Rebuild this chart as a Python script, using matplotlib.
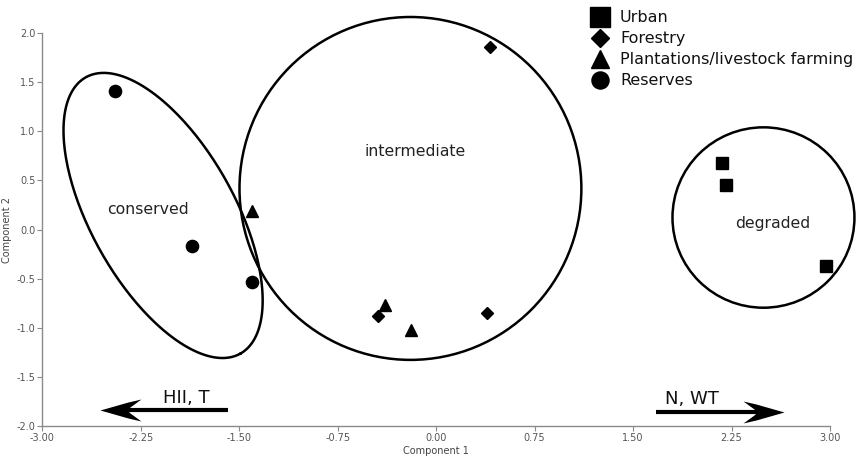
import numpy as np
import matplotlib
matplotlib.use('Agg')
import matplotlib.pyplot as plt
from matplotlib.patches import Ellipse
from matplotlib.path import Path
from matplotlib.lines import Line2D

# scores on the two components
urban_x = [2.18, 2.21, 2.97]
urban_y = [0.68, 0.45, -0.37]
forestry_x = [0.41, -0.44, 0.39]
forestry_y = [1.86, -0.88, -0.85]
plant_x = [-1.40, -0.39, -0.19]
plant_y = [0.19, -0.765, -1.02]
reserve_x = [-2.45, -1.86, -1.40]
reserve_y = [1.41, -0.17, -0.53]

legend_labels = ['Urban', 'Forestry', 'Plantations/livestock farming', 'Reserves']
x_ticks = [-3.00, -2.25, -1.50, -0.75, 0.00, 0.75, 1.50, 2.25, 3.00]
y_ticks = [-2.0, -1.5, -1.0, -0.5, 0.0, 0.5, 1.0, 1.5, 2.0]

# groups: conserved (tilted ellipse, centre + two conjugate semi-axes), intermediate, degraded
cons_c = (-2.08, 0.143)
cons_u = (0.589, -1.406)
cons_v = (-0.478, -0.359)
inter_c = (-0.196, 0.418)
inter_wh = (2.604, 3.49)
degr_c = (2.493, 0.122)
degr_wh = (1.386, 1.836)

fig = plt.figure(figsize=(8.58, 4.63), dpi=100)
ax = fig.add_axes([0.0493, 0.0799, 0.9181, 0.8488])
ax.set_xlim(-3, 3)
ax.set_ylim(-2, 2)

ms = dict(color='black', linestyle='none', clip_on=False)
ax.plot(urban_x, urban_y, marker='s', markersize=8.2, **ms)
ax.plot(forestry_x, forestry_y, marker='D', markersize=6.0, **ms)
ax.plot(plant_x, plant_y, marker='^', markersize=8.2, **ms)
ax.plot(reserve_x, reserve_y, marker='o', markersize=8.8, **ms)

# ellipses
t = np.linspace(0, 2 * np.pi, 300)
ex = cons_c[0] + cons_u[0] * np.cos(t) + cons_v[0] * np.sin(t)
ey = cons_c[1] + cons_u[1] * np.cos(t) + cons_v[1] * np.sin(t)
ax.plot(ex, ey, color='black', lw=1.8, clip_on=False)
ax.add_patch(Ellipse(inter_c, inter_wh[0], inter_wh[1], fill=False, ec='black', lw=1.8, clip_on=False))
ax.add_patch(Ellipse(degr_c, degr_wh[0], degr_wh[1], fill=False, ec='black', lw=1.8, clip_on=False))

txt = dict(fontsize=11.3, color='#222222', ha='center', va='center')
ax.text(-2.197, 0.204, 'conserved', **txt)
ax.text(-0.161, 0.793, 'intermediate', **txt)
ax.text(2.567, 0.058, 'degraded', **txt)

# arrows with swept-back heads
head = np.array([[0, 0], [14, 4], [28, 8], [41, 11], [30, 3], [27, 0],
                 [30, -3], [41, -11], [28, -8], [14, -4], [0, 0]], dtype=float)
head_left = Path(head, closed=True)
head_right = Path(head * [-1, 1], closed=True)


def arrow(x0, x1, y, pth, back):
    ax.plot([x0, x1 + back], [y, y], color='black', lw=3.0, solid_capstyle='butt', clip_on=False)
    ax.plot([x1], [y], marker=pth, markersize=59, color='black', mew=0, clip_on=False)


arrow(-1.588, -2.561, -1.837, head_left, 0.2)
arrow(1.672, 2.649, -1.857, head_right, -0.2)
ax.text(-1.90, -1.71, 'HII, T', fontsize=13, color='#111111', ha='center', va='center')
ax.text(1.947, -1.73, 'N, WT', fontsize=13, color='#111111', ha='center', va='center')

# axes styling
for s in ['top', 'right']:
    ax.spines[s].set_visible(False)
for s in ['left', 'bottom']:
    ax.spines[s].set_color('#8a8a8a')
    ax.spines[s].set_linewidth(1.0)
ax.set_xticks(x_ticks)
ax.set_xticklabels(['%.2f' % v for v in x_ticks])
ax.set_yticks(y_ticks)
ax.set_yticklabels(['%.1f' % v for v in y_ticks])
ax.tick_params(direction='out', length=3.5, width=0.8, color='#8a8a8a',
               labelsize=7, labelcolor='#555555', pad=1.5)
ax.set_xlabel('Component 1', fontsize=7, color='#444444', labelpad=2)
ax.set_ylabel('Component 2', fontsize=7, color='#444444', labelpad=3)

handles = [
    Line2D([], [], marker='s', markersize=13.7, color='black', linestyle='none'),
    Line2D([], [], marker='D', markersize=9.5, color='black', linestyle='none'),
    Line2D([], [], marker='^', markersize=12.5, color='black', linestyle='none'),
    Line2D([], [], marker='o', markersize=12.3, color='black', linestyle='none'),
]
ax.legend(handles, legend_labels, loc='upper left', bbox_to_anchor=(0.689, 0.978),
          bbox_transform=fig.transFigure, frameon=False, fontsize=11.5,
          handlelength=1.1, handletextpad=0.7, labelspacing=0.38,
          borderpad=0, borderaxespad=0, labelcolor='#111111')

fig.savefig('out.png', dpi=100)
